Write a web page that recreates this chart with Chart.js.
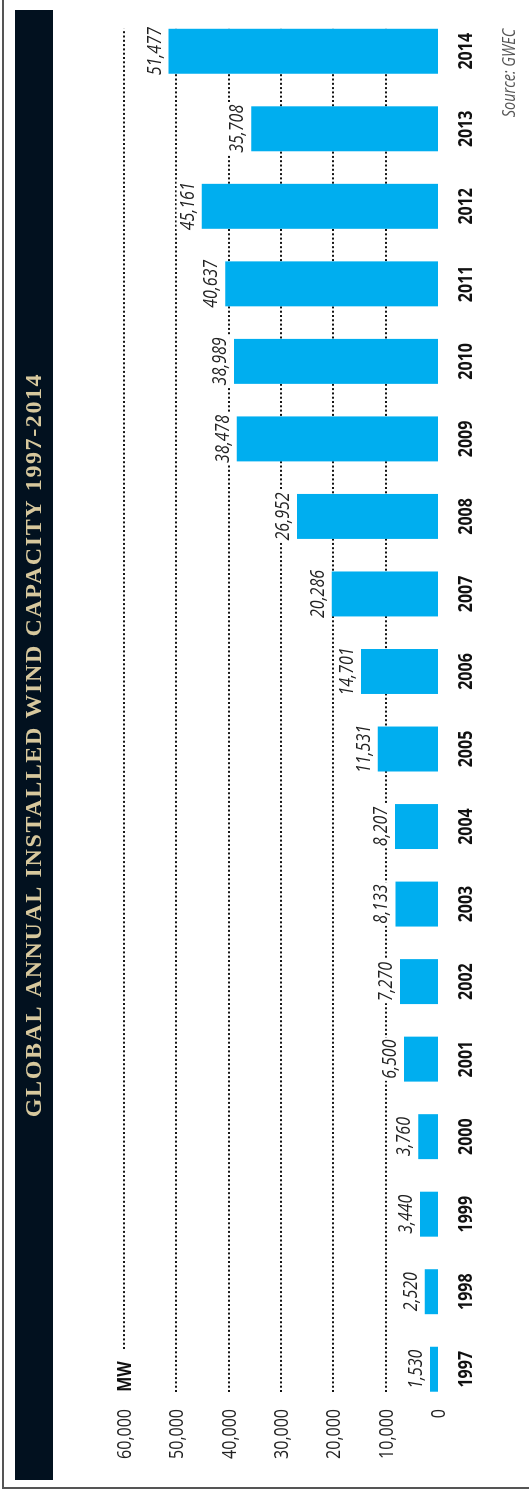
<!DOCTYPE html>
<html>
<head>
<meta charset="utf-8">
<script src="https://cdn.jsdelivr.net/npm/chart.js@4.4.1/dist/chart.umd.min.js"></script>
<style>
  html, body { margin: 0; padding: 0; background: #fff; overflow: hidden; }
  /* the chart is laid out landscape, then turned to read bottom-to-top */
  #wrap {
    position: absolute; left: 0; top: 0;
    width: 1491px; height: 529px;
    transform-origin: 0 0;
    transform: translateY(1491px) rotate(-90deg);
  }
</style>
</head>
<body>
<div id="wrap"><canvas id="windChart" width="1491" height="529"></canvas></div>
<script>
const years = ['1997', '1998', '1999', '2000', '2001', '2002', '2003', '2004', '2005',
  '2006', '2007', '2008', '2009', '2010', '2011', '2012', '2013', '2014'];
const installedMW = [1530, 2520, 3440, 3760, 6500, 7270, 8133, 8207, 11531,
  14701, 20286, 26952, 38478, 38989, 40637, 45161, 35708, 51477];
const valueTicks = [0, 10000, 20000, 30000, 40000, 50000, 60000];
const chartTitle = 'GLOBAL ANNUAL INSTALLED WIND CAPACITY 1997-2014';
const unitLabel = 'MW';
const sourceNote = 'Source: GWEC';

const sans = "'Open Sans', 'DejaVu Sans', sans-serif";
const SQUEEZE = 0.8; // fake a condensed face by narrowing the glyphs
const fmt = (n) => n.toLocaleString('en-US');

// draws text squeezed horizontally, anchored at (x, y)
function narrowText(ctx, text, x, y, align) {
  ctx.save();
  ctx.translate(x, y);
  ctx.scale(SQUEEZE, 1);
  ctx.textAlign = align;
  ctx.fillText(text, 0, 0);
  ctx.restore();
}
function narrowWidth(ctx, text) {
  return ctx.measureText(text).width * SQUEEZE;
}

const decorations = {
  id: 'decorations',
  beforeDraw(chart) {
    const ctx = chart.ctx;
    ctx.save();
    // frame edges
    ctx.fillStyle = '#555';
    ctx.fillRect(3, 2, chart.width - 3, 2);
    ctx.fillRect(2, 2, 2, chart.height - 2);
    // title band
    ctx.fillStyle = '#02111f';
    ctx.fillRect(11, 15, 1470, 38);
    ctx.fillStyle = '#d7c89d';
    ctx.font = "bold 24px 'Liberation Serif', 'DejaVu Serif', serif";
    ctx.letterSpacing = '1.6px';
    ctx.textAlign = 'center';
    ctx.textBaseline = 'middle';
    ctx.fillText(chartTitle, 746, 35);
    ctx.restore();
  },
  beforeDatasetsDraw(chart) {
    const ctx = chart.ctx;
    const { x: xScale, y: yScale } = chart.scales;
    const bars = chart.getDatasetMeta(0).data;
    const first = bars[0], last = bars[bars.length - 1];
    const start = first.x - first.width / 2;
    const end = last.x + last.width / 2;
    const topTick = valueTicks[valueTicks.length - 1];
    ctx.save();
    ctx.textBaseline = 'alphabetic';
    valueTicks.forEach((v) => {
      const py = Math.round(yScale.getPixelForValue(v));
      // value axis label
      ctx.font = '20px ' + sans;
      ctx.fillStyle = '#222';
      narrowText(ctx, fmt(v), yScale.right - 1, py + 7, 'right');
      if (v === 0) return;
      let sx = start;
      if (v === topTick) {
        ctx.font = 'bold 20px ' + sans;
        ctx.fillStyle = '#111';
        narrowText(ctx, unitLabel, start, py + 7, 'left');
        sx = start + narrowWidth(ctx, unitLabel) + 12;
      }
      // dotted value gridline
      ctx.strokeStyle = '#151515';
      ctx.lineWidth = 2;
      ctx.setLineDash([2, 2.3]);
      ctx.beginPath();
      ctx.moveTo(Math.round(sx), py);
      ctx.lineTo(end, py);
      ctx.stroke();
      ctx.setLineDash([]);
    });
    // year labels under each bar
    ctx.font = 'bold 20px ' + sans;
    ctx.fillStyle = '#111';
    years.forEach((yr, i) => {
      narrowText(ctx, yr, xScale.getPixelForValue(i), xScale.top + 34, 'center');
    });
    ctx.restore();
  },
  afterDatasetsDraw(chart) {
    const ctx = chart.ctx;
    const bars = chart.getDatasetMeta(0).data;
    ctx.save();
    ctx.font = 'italic 20px ' + sans;
    ctx.textBaseline = 'alphabetic';
    bars.forEach((bar, i) => {
      const txt = fmt(installedMW[i]);
      const w = narrowWidth(ctx, txt);
      const by = bar.y - 8;
      ctx.fillStyle = '#fff';
      ctx.fillRect(bar.x - w / 2 - 2, by - 17, w + 4, 21);
      ctx.fillStyle = '#222';
      narrowText(ctx, txt, bar.x, by, 'center');
    });
    // source line under the last year
    const last = bars[bars.length - 1];
    ctx.font = 'italic 18px ' + sans;
    ctx.fillStyle = '#555';
    narrowText(ctx, sourceNote, last.x + last.width / 2, 515, 'right');
    ctx.restore();
  }
};

new Chart(document.getElementById('windChart'), {
  type: 'bar',
  data: {
    labels: years,
    datasets: [{
      label: 'Installed capacity (MW)',
      data: installedMW,
      backgroundColor: '#00aeef',
      borderWidth: 0,
      barPercentage: 0.58,
      categoryPercentage: 1,
    }],
  },
  options: {
    responsive: false,
    animation: false,
    locale: 'en-US',
    layout: { padding: { top: 124, left: 0, right: 12.5, bottom: 0 } },
    plugins: {
      legend: { display: false },
      tooltip: { enabled: false },
      title: { display: false },
    },
    scales: {
      x: {
        offset: true,
        grid: { display: false, drawTicks: false },
        border: { display: false },
        ticks: { display: false },
        afterFit: (s) => { s.height = 91; },
      },
      y: {
        min: 0,
        max: 60000,
        grid: { display: false, drawTicks: false },
        border: { display: false },
        afterBuildTicks: (s) => { s.ticks = valueTicks.map((v) => ({ value: v })); },
        ticks: { display: false },
        afterFit: (s) => { s.width = 83; },
      },
    },
  },
  plugins: [decorations],
});
</script>
</body>
</html>
